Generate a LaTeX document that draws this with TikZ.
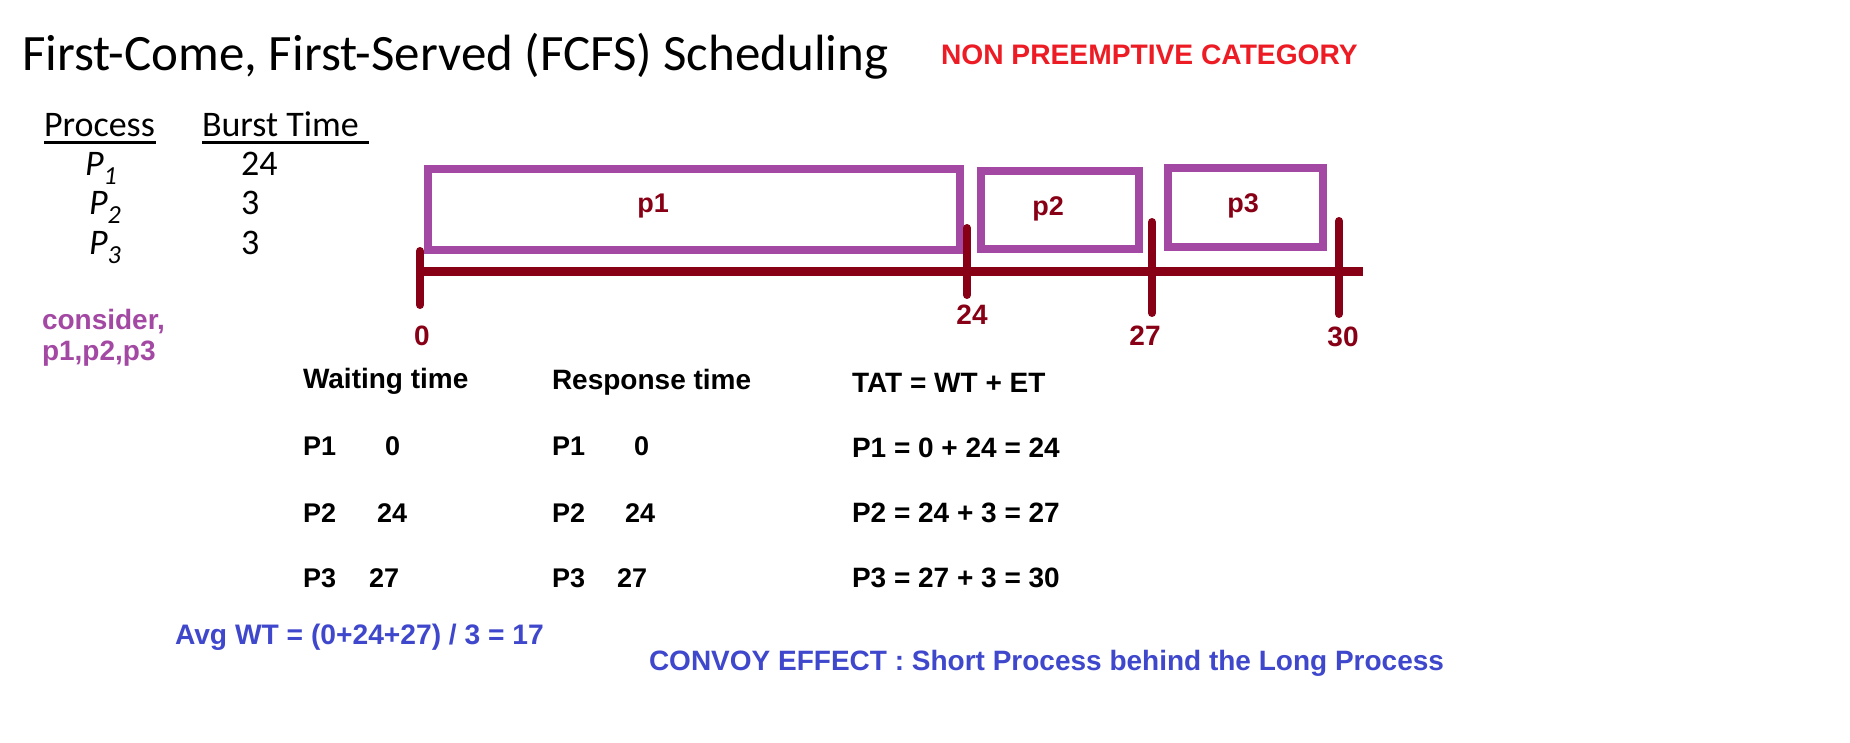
\documentclass[tikz,border=0pt]{standalone}
\usepackage{fontspec}
\setmainfont{Carlito}
\newfontfamily\arialf{Liberation Sans}
\definecolor{gpurple}{HTML}{A349A4}
\definecolor{gdred}{HTML}{880015}
\definecolor{gred}{HTML}{ED1C24}
\definecolor{gblue}{HTML}{3F48CC}
\newcommand\myfs[1]{\fontsize{#1pt}{#1pt}\selectfont}
\newcommand\procsub[1]{{\itshape P\raisebox{-9pt}{\myfs{26}#1}}}
\tikzset{
  txt/.style={inner sep=0pt, outer sep=0pt, anchor=base west},
  bld/.style={txt, font=\arialf\bfseries\myfs{#1}},
  ctr/.style={anchor=base},
  gbox/.style={draw=gpurple, line width=8pt, rectangle, inner sep=0pt},
  axisline/.style={draw=gdred, line width=9pt},
  tickline/.style={draw=gdred, line width=8pt, line cap=round},
  ulline/.style={draw=black, line width=3pt},
}
\begin{document}
\begin{tikzpicture}[x=1pt,y=-1pt]
\useasboundingbox[fill=white] (0,0) rectangle (1850,743);
% title
\node[txt, font=\myfs{51}] (title) at (22,71) {First-Come, First-Served (FCFS) Scheduling};
\node[bld=28.2, text=gred] (np) at (941,65) {NON PREEMPTIVE CATEGORY};
% process table
\node[txt, font=\myfs{36}] (hproc) at (44,137) {Process};
\node[txt, font=\myfs{36}] (hburst) at (202,137) {Burst Time};
\coordinate (u1a) at (44,142.5); \coordinate (u1b) at (156,142.5);
\coordinate (u2a) at (202,142.5); \coordinate (u2b) at (369,142.5);
\draw[ulline] (u1a) -- (u1b);
\draw[ulline] (u2a) -- (u2b);
\node[txt, font=\myfs{36}] (pp1) at (85,176) {\procsub{1}};
\node[txt, font=\myfs{36}] (pp2) at (89,215) {\procsub{2}};
\node[txt, font=\myfs{36}] (pp3) at (89,255) {\procsub{3}};
\node[txt, font=\myfs{36}] (bt1) at (241,176) {24};
\node[txt, font=\myfs{36}] (bt2) at (241,215) {3};
\node[txt, font=\myfs{36}] (bt3) at (241,255) {3};
\node[bld=28, text=gpurple] (cons1) at (42,330) {consider,};
\node[bld=28, text=gpurple] (cons2) at (42,360) {p1,p2,p3};
% gantt chart
\node[gbox, minimum width=532pt, minimum height=81.5pt] (b1) at (694,209.75) {};
\node[gbox, minimum width=158pt, minimum height=78pt] (b2) at (1060,210) {};
\node[gbox, minimum width=155pt, minimum height=79.5pt] (b3) at (1245.5,207.75) {};
\node[bld=27, ctr, text=gdred] (l1) at (653,213) {p1};
\node[bld=27, ctr, text=gdred] (l2) at (1048,216) {p2};
\node[bld=27, ctr, text=gdred] (l3) at (1243,213) {p3};
\coordinate (ax0) at (420,271.5);
\coordinate (ax1) at (1363,271.5);
\draw[axisline] (ax0) -- (ax1);
\coordinate (t0a) at (420,251); \coordinate (t0b) at (420,305);
\coordinate (t1a) at (967,228); \coordinate (t1b) at (967,295);
\coordinate (t2a) at (1152,222); \coordinate (t2b) at (1152,313);
\coordinate (t3a) at (1339,221); \coordinate (t3b) at (1339,314);
\draw[tickline] (t0a) -- (t0b);
\draw[tickline] (t1a) -- (t1b);
\draw[tickline] (t2a) -- (t2b);
\draw[tickline] (t3a) -- (t3b);
\node[bld=28, ctr, text=gdred] (n0) at (422,345) {0};
\node[bld=28, ctr, text=gdred] (n24) at (972,324) {24};
\node[bld=28, ctr, text=gdred] (n27) at (1145,345) {27};
\node[bld=28, ctr, text=gdred] (n30) at (1343,346) {30};
% tables
\node[bld=28] (hw) at (303,388) {Waiting time};
\node[bld=28] (hr) at (552,389) {Response time};
\node[bld=28] (ht) at (852,392) {TAT = WT + ET};
\node[bld=27] (w1) at (303,455) {P1};
\node[bld=27] (w2) at (303,522) {P2};
\node[bld=27] (w3) at (303,587) {P3};
\node[bld=27] (wv1) at (385,455) {0};
\node[bld=27] (wv2) at (377,522) {24};
\node[bld=27] (wv3) at (369,587) {27};
\node[bld=27] (r1) at (552,455) {P1};
\node[bld=27] (r2) at (552,522) {P2};
\node[bld=27] (r3) at (552,587) {P3};
\node[bld=27] (rv1) at (634,455) {0};
\node[bld=27] (rv2) at (625,522) {24};
\node[bld=27] (rv3) at (617,587) {27};
\node[bld=28] (tt1) at (852,457) {P1 = 0 + 24 = 24};
\node[bld=28] (tt2) at (852,522) {P2 = 24 + 3 = 27};
\node[bld=28] (tt3) at (852,587) {P3 = 27 + 3 = 30};
\node[bld=28.2, text=gblue] (avg) at (175,644) {Avg WT = (0+24+27) / 3 = 17};
\node[bld=28, text=gblue] (convoy) at (649,670) {CONVOY EFFECT : Short Process behind the Long Process};
\end{tikzpicture}
\end{document}
